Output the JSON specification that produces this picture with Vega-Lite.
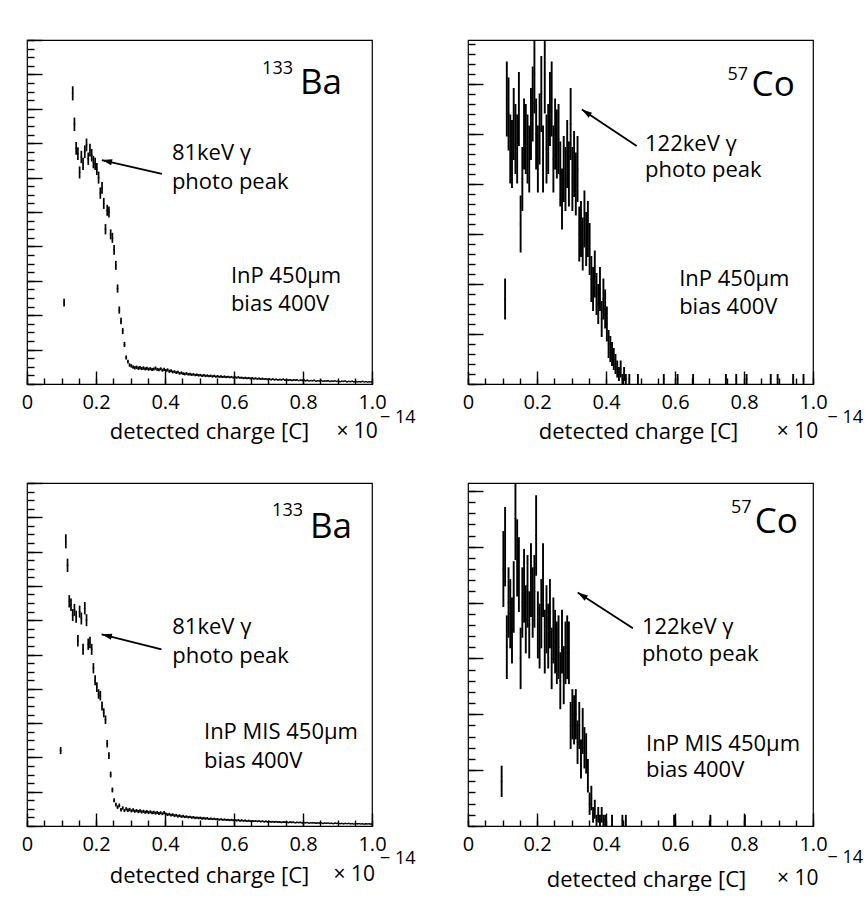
{
"$schema":"https://vega.github.io/schema/vega-lite/v6.json",
"background":"white",
"padding":{"left":20,"top":38,"right":0,"bottom":0},
"bounds":"flush",
"columns":2,
"spacing":{"row":99,"column":96},
"config":{"font":"Open Sans","view":{"stroke":"black","strokeWidth":1.2},
"axis":{"domain":false,"grid":false,"tickColor":"black","tickWidth":1.4,"tickRound":true,"labelColor":"black","labelFont":"Open Sans","labelFontSize":20,"titleFont":"Open Sans","titleFontSize":22,"titleFontWeight":"normal","titleColor":"black","labelFlush":false,"labelOverlap":false}},
"datasets":{
"h1":[{"x":0.1075,"c":473,"e":22},{"x":0.1325,"c":1690,"e":41},{"x":0.1375,"c":1510,"e":39},{"x":0.1425,"c":1370,"e":37},{"x":0.1475,"c":1340,"e":37},{"x":0.1525,"c":1230,"e":35},{"x":0.1575,"c":1320,"e":36},{"x":0.1625,"c":1280,"e":36},{"x":0.1675,"c":1350,"e":37},{"x":0.1725,"c":1390,"e":37},{"x":0.1775,"c":1310,"e":36},{"x":0.1825,"c":1360,"e":37},{"x":0.1875,"c":1330,"e":36},{"x":0.1925,"c":1290,"e":36},{"x":0.1975,"c":1280,"e":36},{"x":0.2025,"c":1250,"e":35},{"x":0.2075,"c":1200,"e":35},{"x":0.2125,"c":1110,"e":33},{"x":0.2175,"c":1140,"e":34},{"x":0.2225,"c":1050,"e":32},{"x":0.2275,"c":900,"e":30},{"x":0.2325,"c":1010,"e":32},{"x":0.2375,"c":1000,"e":32},{"x":0.2425,"c":870,"e":29},{"x":0.2475,"c":850,"e":29},{"x":0.2525,"c":780,"e":28},{"x":0.2575,"c":690,"e":26},{"x":0.2625,"c":555,"e":24},{"x":0.2675,"c":430,"e":21},{"x":0.2725,"c":366,"e":19},{"x":0.2775,"c":308,"e":18},{"x":0.2825,"c":230,"e":15},{"x":0.2875,"c":154,"e":12},{"x":0.2925,"c":130,"e":11},{"x":0.2975,"c":110,"e":10},
{"x":0.3025,"c":105,"e":10},{"x":0.3075,"c":98,"e":10},{"x":0.3125,"c":94,"e":10},{"x":0.3175,"c":97,"e":10},{"x":0.3225,"c":92,"e":10},{"x":0.3275,"c":95,"e":10},{"x":0.3325,"c":90,"e":9},{"x":0.3375,"c":93,"e":10},{"x":0.3425,"c":88,"e":9},{"x":0.3475,"c":91,"e":10},{"x":0.3525,"c":86,"e":9},{"x":0.3575,"c":89,"e":9},{"x":0.3625,"c":84,"e":9},{"x":0.3675,"c":87,"e":9},{"x":0.3725,"c":92,"e":10},{"x":0.3775,"c":85,"e":9},{"x":0.3825,"c":83,"e":9},{"x":0.3875,"c":88,"e":9},{"x":0.3925,"c":80,"e":9},{"x":0.3975,"c":85,"e":9},{"x":0.4025,"c":78,"e":9},{"x":0.4075,"c":82,"e":9},{"x":0.4125,"c":74,"e":9},{"x":0.4175,"c":77,"e":9},{"x":0.4225,"c":70,"e":8},{"x":0.4275,"c":72,"e":8},{"x":0.4325,"c":66,"e":8},{"x":0.4375,"c":69,"e":8},{"x":0.4425,"c":62,"e":8},{"x":0.4475,"c":65,"e":8},{"x":0.4525,"c":60,"e":8},{"x":0.4575,"c":58,"e":8},{"x":0.4625,"c":61,"e":8},{"x":0.4675,"c":56,"e":7},{"x":0.4725,"c":58,"e":8},{"x":0.4775,"c":54,"e":7},{"x":0.4825,"c":56,"e":7},{"x":0.4875,"c":52,"e":7},{"x":0.4925,"c":54,"e":7},{"x":0.4975,"c":50,"e":7},{"x":0.5025,"c":52,"e":7},{"x":0.5075,"c":48,"e":7},{"x":0.5125,"c":51,"e":7},{"x":0.5175,"c":47,"e":7},{"x":0.5225,"c":49,"e":7},{"x":0.5275,"c":46,"e":7},{"x":0.5325,"c":48,"e":7},{"x":0.5375,"c":44,"e":7},{"x":0.5425,"c":47,"e":7},{"x":0.5475,"c":43,"e":7},{"x":0.5525,"c":45,"e":7},{"x":0.5575,"c":42,"e":6},{"x":0.5625,"c":44,"e":7},{"x":0.5675,"c":41,"e":6},{"x":0.5725,"c":43,"e":7},{"x":0.5775,"c":40,"e":6},{"x":0.5825,"c":42,"e":6},{"x":0.5875,"c":39,"e":6},{"x":0.5925,"c":41,"e":6},{"x":0.5975,"c":38,"e":6},{"x":0.6025,"c":40,"e":6},{"x":0.6075,"c":37,"e":6},{"x":0.6125,"c":39,"e":6},{"x":0.6175,"c":36,"e":6},{"x":0.6225,"c":37,"e":6},{"x":0.6275,"c":34,"e":6},{"x":0.6325,"c":36,"e":6},{"x":0.6375,"c":33,"e":6},{"x":0.6425,"c":35,"e":6},{"x":0.6475,"c":32,"e":6},{"x":0.6525,"c":34,"e":6},{"x":0.6575,"c":31,"e":6},{"x":0.6625,"c":33,"e":6},{"x":0.6675,"c":30,"e":5},{"x":0.6725,"c":32,"e":6},{"x":0.6775,"c":29,"e":5},{"x":0.6825,"c":31,"e":6},{"x":0.6875,"c":28,"e":5},{"x":0.6925,"c":30,"e":5},{"x":0.6975,"c":27,"e":5},{"x":0.7025,"c":29,"e":5},{"x":0.7075,"c":26,"e":5},{"x":0.7125,"c":28,"e":5},{"x":0.7175,"c":25,"e":5},{"x":0.7225,"c":27,"e":5},{"x":0.7275,"c":24,"e":5},{"x":0.7325,"c":26,"e":5},{"x":0.7375,"c":25,"e":5},{"x":0.7425,"c":27,"e":5},{"x":0.7475,"c":23,"e":5},{"x":0.7525,"c":25,"e":5},{"x":0.7575,"c":22,"e":5},{"x":0.7625,"c":24,"e":5},{"x":0.7675,"c":21,"e":5},{"x":0.7725,"c":23,"e":5},{"x":0.7775,"c":22,"e":5},{"x":0.7825,"c":24,"e":5},{"x":0.7875,"c":20,"e":4},{"x":0.7925,"c":22,"e":5},{"x":0.7975,"c":21,"e":5},{"x":0.8025,"c":23,"e":5},{"x":0.8075,"c":19,"e":4},{"x":0.8125,"c":21,"e":5},{"x":0.8175,"c":18,"e":4},{"x":0.8225,"c":20,"e":4},{"x":0.8275,"c":19,"e":4},{"x":0.8325,"c":21,"e":5},{"x":0.8375,"c":17,"e":4},{"x":0.8425,"c":19,"e":4},{"x":0.8475,"c":18,"e":4},{"x":0.8525,"c":20,"e":4},{"x":0.8575,"c":16,"e":4},{"x":0.8625,"c":18,"e":4},{"x":0.8675,"c":17,"e":4},{"x":0.8725,"c":19,"e":4},{"x":0.8775,"c":15,"e":4},{"x":0.8825,"c":17,"e":4},{"x":0.8875,"c":16,"e":4},{"x":0.8925,"c":18,"e":4},{"x":0.8975,"c":15,"e":4},{"x":0.9025,"c":17,"e":4},{"x":0.9075,"c":14,"e":4},{"x":0.9125,"c":16,"e":4},{"x":0.9175,"c":15,"e":4},{"x":0.9225,"c":17,"e":4},{"x":0.9275,"c":13,"e":4},{"x":0.9325,"c":15,"e":4},{"x":0.9375,"c":14,"e":4},{"x":0.9425,"c":16,"e":4},{"x":0.9475,"c":13,"e":4},{"x":0.9525,"c":15,"e":4},{"x":0.9575,"c":12,"e":3},{"x":0.9625,"c":14,"e":4},{"x":0.9675,"c":13,"e":4},{"x":0.9725,"c":15,"e":4},{"x":0.9775,"c":12,"e":3},{"x":0.9825,"c":14,"e":4},{"x":0.9875,"c":11,"e":3},{"x":0.9925,"c":13,"e":4},{"x":0.9975,"c":12,"e":3}],
"h2":[{"x":0.1075,"c":17,"e":4.1},{"x":0.1125,"c":57,"e":7.5},{"x":0.1175,"c":54,"e":7.3},{"x":0.1225,"c":47,"e":6.9},{"x":0.1275,"c":46,"e":6.8},{"x":0.1325,"c":52,"e":7.2},{"x":0.1375,"c":49,"e":7},{"x":0.1425,"c":47,"e":6.9},{"x":0.1475,"c":55,"e":7.4},{"x":0.1525,"c":32,"e":5.7},{"x":0.1575,"c":41,"e":6.4},{"x":0.1625,"c":50,"e":7.1},{"x":0.1675,"c":49,"e":7},{"x":0.1725,"c":47,"e":6.9},{"x":0.1775,"c":45,"e":6.7},{"x":0.1825,"c":52,"e":7.2},{"x":0.1875,"c":56,"e":7.5},{"x":0.1925,"c":62,"e":7.9},{"x":0.1975,"c":50,"e":7.1},{"x":0.2025,"c":45,"e":6.7},{"x":0.2075,"c":51,"e":7.1},{"x":0.2125,"c":58,"e":7.6},{"x":0.2175,"c":45,"e":6.7},{"x":0.2225,"c":62,"e":7.9},{"x":0.2275,"c":47,"e":6.9},{"x":0.2325,"c":49,"e":7},{"x":0.2375,"c":55,"e":7.4},{"x":0.2425,"c":57,"e":7.5},{"x":0.2475,"c":45,"e":6.7},{"x":0.2525,"c":50,"e":7.1},{"x":0.2575,"c":48,"e":6.9},{"x":0.2625,"c":49,"e":7},{"x":0.2675,"c":42,"e":6.5},{"x":0.2725,"c":37,"e":6.1},{"x":0.2775,"c":43,"e":6.6},{"x":0.2825,"c":41,"e":6.4},{"x":0.2875,"c":46,"e":6.8},{"x":0.2925,"c":42,"e":6.5},{"x":0.2975,"c":52,"e":7.2},{"x":0.3025,"c":41,"e":6.4},{"x":0.3075,"c":44,"e":6.6},{"x":0.3125,"c":40,"e":6.3},{"x":0.3175,"c":43,"e":6.6},{"x":0.3225,"c":30,"e":5.5},{"x":0.3275,"c":31,"e":5.6},{"x":0.3325,"c":28,"e":5.3},{"x":0.3375,"c":33,"e":5.7},{"x":0.3425,"c":29,"e":5.4},{"x":0.3475,"c":31,"e":5.6},{"x":0.3525,"c":27,"e":5.2},{"x":0.3575,"c":21,"e":4.6},{"x":0.3625,"c":19,"e":4.4},{"x":0.3675,"c":22,"e":4.7},{"x":0.3725,"c":18,"e":4.2},{"x":0.3775,"c":16,"e":4},{"x":0.3825,"c":19,"e":4.4},{"x":0.3875,"c":13,"e":3.6},{"x":0.3925,"c":17,"e":4.1},{"x":0.3975,"c":15,"e":3.9},{"x":0.4025,"c":12,"e":3.5},{"x":0.4075,"c":8,"e":2.8},{"x":0.4125,"c":7,"e":2.6},{"x":0.4175,"c":6,"e":2.4},{"x":0.4225,"c":5,"e":2.2},{"x":0.4275,"c":4,"e":2},{"x":0.4325,"c":3,"e":1.7},{"x":0.4375,"c":2,"e":1.4},{"x":0.4425,"c":3,"e":1.7},{"x":0.4475,"c":1,"e":1},{"x":0.4525,"c":2,"e":1.4},{"x":0.4575,"c":1,"e":1},{"x":0.4675,"c":1,"e":1},{"x":0.4925,"c":1,"e":1},{"x":0.5675,"c":1,"e":1},{"x":0.6075,"c":1,"e":1},{"x":0.6525,"c":1,"e":1},{"x":0.7475,"c":1,"e":1},{"x":0.7775,"c":1,"e":1},{"x":0.8075,"c":1,"e":1},{"x":0.8775,"c":1,"e":1},{"x":0.8975,"c":1,"e":1},{"x":0.9425,"c":1,"e":1},{"x":0.9725,"c":1,"e":1}],
"h3":[{"x":0.0975,"c":440,"e":21},{"x":0.1125,"c":1660,"e":41},{"x":0.1175,"c":1520,"e":39},{"x":0.1225,"c":1310,"e":36},{"x":0.1275,"c":1290,"e":36},{"x":0.1325,"c":1230,"e":35},{"x":0.1375,"c":1260,"e":35},{"x":0.1425,"c":1220,"e":35},{"x":0.1475,"c":1080,"e":33},{"x":0.1525,"c":1250,"e":35},{"x":0.1575,"c":1210,"e":35},{"x":0.1625,"c":1030,"e":32},{"x":0.1675,"c":1270,"e":36},{"x":0.1725,"c":1200,"e":35},{"x":0.1775,"c":1060,"e":33},{"x":0.1825,"c":1070,"e":33},{"x":0.1875,"c":1030,"e":32},{"x":0.1925,"c":920,"e":30},{"x":0.1975,"c":850,"e":29},{"x":0.2025,"c":810,"e":28},{"x":0.2075,"c":770,"e":28},{"x":0.2125,"c":760,"e":28},{"x":0.2175,"c":700,"e":26},{"x":0.2225,"c":660,"e":26},{"x":0.2275,"c":620,"e":25},{"x":0.2325,"c":480,"e":22},{"x":0.2375,"c":410,"e":20},{"x":0.2425,"c":300,"e":17},{"x":0.2475,"c":210,"e":14},{"x":0.2525,"c":150,"e":12},{"x":0.2575,"c":125,"e":11},{"x":0.2625,"c":110,"e":10},{"x":0.2675,"c":120,"e":11},{"x":0.2725,"c":95,"e":10},{"x":0.2775,"c":105,"e":10},{"x":0.2825,"c":90,"e":9},{"x":0.2875,"c":100,"e":10},{"x":0.2925,"c":92,"e":10},
{"x":0.2975,"c":96,"e":10},{"x":0.3025,"c":88,"e":9},{"x":0.3075,"c":93,"e":10},{"x":0.3125,"c":86,"e":9},{"x":0.3175,"c":90,"e":9},{"x":0.3225,"c":84,"e":9},{"x":0.3275,"c":88,"e":9},{"x":0.3325,"c":82,"e":9},{"x":0.3375,"c":86,"e":9},{"x":0.3425,"c":80,"e":9},{"x":0.3475,"c":84,"e":9},{"x":0.3525,"c":78,"e":9},{"x":0.3575,"c":83,"e":9},{"x":0.3625,"c":77,"e":9},{"x":0.3675,"c":80,"e":9},{"x":0.3725,"c":75,"e":9},{"x":0.3775,"c":79,"e":9},{"x":0.3825,"c":73,"e":9},{"x":0.3875,"c":77,"e":9},{"x":0.3925,"c":71,"e":8},{"x":0.3975,"c":78,"e":9},{"x":0.4025,"c":70,"e":8},{"x":0.4075,"c":66,"e":8},{"x":0.4125,"c":69,"e":8},{"x":0.4175,"c":63,"e":8},{"x":0.4225,"c":66,"e":8},{"x":0.4275,"c":60,"e":8},{"x":0.4325,"c":63,"e":8},{"x":0.4375,"c":58,"e":8},{"x":0.4425,"c":60,"e":8},{"x":0.4475,"c":55,"e":7},{"x":0.4525,"c":57,"e":8},{"x":0.4575,"c":53,"e":7},{"x":0.4625,"c":55,"e":7},{"x":0.4675,"c":51,"e":7},{"x":0.4725,"c":53,"e":7},{"x":0.4775,"c":49,"e":7},{"x":0.4825,"c":51,"e":7},{"x":0.4875,"c":47,"e":7},{"x":0.4925,"c":49,"e":7},{"x":0.4975,"c":46,"e":7},{"x":0.5025,"c":48,"e":7},{"x":0.5075,"c":44,"e":7},{"x":0.5125,"c":46,"e":7},{"x":0.5175,"c":43,"e":7},{"x":0.5225,"c":45,"e":7},{"x":0.5275,"c":41,"e":6},{"x":0.5325,"c":43,"e":7},{"x":0.5375,"c":40,"e":6},{"x":0.5425,"c":42,"e":6},{"x":0.5475,"c":39,"e":6},{"x":0.5525,"c":40,"e":6},{"x":0.5575,"c":37,"e":6},{"x":0.5625,"c":39,"e":6},{"x":0.5675,"c":36,"e":6},{"x":0.5725,"c":38,"e":6},{"x":0.5775,"c":35,"e":6},{"x":0.5825,"c":37,"e":6},{"x":0.5875,"c":34,"e":6},{"x":0.5925,"c":36,"e":6},{"x":0.5975,"c":33,"e":6},{"x":0.6025,"c":35,"e":6},{"x":0.6075,"c":32,"e":6},{"x":0.6125,"c":34,"e":6},{"x":0.6175,"c":31,"e":6},{"x":0.6225,"c":33,"e":6},{"x":0.6275,"c":30,"e":5},{"x":0.6325,"c":32,"e":6},{"x":0.6375,"c":29,"e":5},{"x":0.6425,"c":31,"e":6},{"x":0.6475,"c":28,"e":5},{"x":0.6525,"c":30,"e":5},{"x":0.6575,"c":28,"e":5},{"x":0.6625,"c":29,"e":5},{"x":0.6675,"c":27,"e":5},{"x":0.6725,"c":28,"e":5},{"x":0.6775,"c":26,"e":5},{"x":0.6825,"c":28,"e":5},{"x":0.6875,"c":25,"e":5},{"x":0.6925,"c":27,"e":5},{"x":0.6975,"c":24,"e":5},{"x":0.7025,"c":26,"e":5},{"x":0.7075,"c":24,"e":5},{"x":0.7125,"c":25,"e":5},{"x":0.7175,"c":23,"e":5},{"x":0.7225,"c":25,"e":5},{"x":0.7275,"c":22,"e":5},{"x":0.7325,"c":24,"e":5},{"x":0.7375,"c":21,"e":5},{"x":0.7425,"c":23,"e":5},{"x":0.7475,"c":22,"e":5},{"x":0.7525,"c":23,"e":5},{"x":0.7575,"c":20,"e":4},{"x":0.7625,"c":22,"e":5},{"x":0.7675,"c":21,"e":5},{"x":0.7725,"c":22,"e":5},{"x":0.7775,"c":19,"e":4},{"x":0.7825,"c":21,"e":5},{"x":0.7875,"c":20,"e":4},{"x":0.7925,"c":21,"e":5},{"x":0.7975,"c":18,"e":4},{"x":0.8025,"c":20,"e":4},{"x":0.8075,"c":19,"e":4},{"x":0.8125,"c":20,"e":4},{"x":0.8175,"c":17,"e":4},{"x":0.8225,"c":19,"e":4},{"x":0.8275,"c":18,"e":4},{"x":0.8325,"c":19,"e":4},{"x":0.8375,"c":16,"e":4},{"x":0.8425,"c":18,"e":4},{"x":0.8475,"c":17,"e":4},{"x":0.8525,"c":18,"e":4},{"x":0.8575,"c":15,"e":4},{"x":0.8625,"c":17,"e":4},{"x":0.8675,"c":16,"e":4},{"x":0.8725,"c":17,"e":4},{"x":0.8775,"c":15,"e":4},{"x":0.8825,"c":16,"e":4},{"x":0.8875,"c":14,"e":4},{"x":0.8925,"c":16,"e":4},{"x":0.8975,"c":15,"e":4},{"x":0.9025,"c":16,"e":4},{"x":0.9075,"c":14,"e":4},{"x":0.9125,"c":15,"e":4},{"x":0.9175,"c":13,"e":4},{"x":0.9225,"c":15,"e":4},{"x":0.9275,"c":14,"e":4},{"x":0.9325,"c":15,"e":4},{"x":0.9375,"c":13,"e":4},{"x":0.9425,"c":14,"e":4},{"x":0.9475,"c":12,"e":3},{"x":0.9525,"c":14,"e":4},{"x":0.9575,"c":13,"e":4},{"x":0.9625,"c":14,"e":4},{"x":0.9675,"c":12,"e":3},{"x":0.9725,"c":13,"e":4},{"x":0.9775,"c":11,"e":3},{"x":0.9825,"c":13,"e":4},{"x":0.9875,"c":12,"e":3},{"x":0.9925,"c":13,"e":4},{"x":0.9975,"c":11,"e":3}],
"h4":[{"x":0.0975,"c":8,"e":2.8},{"x":0.1025,"c":46,"e":6.8},{"x":0.1075,"c":50,"e":7.1},{"x":0.1125,"c":32,"e":5.7},{"x":0.1175,"c":40,"e":6.3},{"x":0.1225,"c":38,"e":6.2},{"x":0.1275,"c":35,"e":5.9},{"x":0.1325,"c":41,"e":6.4},{"x":0.1375,"c":55,"e":7.4},{"x":0.1425,"c":48,"e":6.9},{"x":0.1475,"c":45,"e":6.7},{"x":0.1525,"c":30,"e":5.5},{"x":0.1575,"c":40,"e":6.3},{"x":0.1625,"c":43,"e":6.6},{"x":0.1675,"c":37,"e":6.1},{"x":0.1725,"c":42,"e":6.5},{"x":0.1775,"c":36,"e":6},{"x":0.1825,"c":44,"e":6.6},{"x":0.1875,"c":40,"e":6.3},{"x":0.1925,"c":42,"e":6.5},{"x":0.1975,"c":52,"e":7.2},{"x":0.2025,"c":36,"e":6},{"x":0.2075,"c":34,"e":5.8},{"x":0.2125,"c":38,"e":6.2},{"x":0.2175,"c":44,"e":6.6},{"x":0.2225,"c":33,"e":5.7},{"x":0.2275,"c":37,"e":6.1},{"x":0.2325,"c":34,"e":5.8},{"x":0.2375,"c":38,"e":6.2},{"x":0.2425,"c":30,"e":5.5},{"x":0.2475,"c":35,"e":5.9},{"x":0.2525,"c":33,"e":5.7},{"x":0.2575,"c":31,"e":5.6},{"x":0.2625,"c":32,"e":5.7},{"x":0.2675,"c":26,"e":5.1},{"x":0.2725,"c":33,"e":5.7},{"x":0.2775,"c":27,"e":5.2},{"x":0.2825,"c":31,"e":5.6},{"x":0.2875,"c":32,"e":5.7},{"x":0.2925,"c":31,"e":5.6},{"x":0.2975,"c":18,"e":4.2},{"x":0.3025,"c":20,"e":4.5},{"x":0.3075,"c":19,"e":4.4},{"x":0.3125,"c":20,"e":4.5},{"x":0.3175,"c":15,"e":3.9},{"x":0.3225,"c":18,"e":4.2},{"x":0.3275,"c":12,"e":3.5},{"x":0.3325,"c":17,"e":4.1},{"x":0.3375,"c":14,"e":3.7},{"x":0.3425,"c":13,"e":3.6},{"x":0.3475,"c":9,"e":3},{"x":0.3525,"c":4,"e":2},{"x":0.3575,"c":5,"e":2.2},{"x":0.3625,"c":2,"e":1.4},{"x":0.3675,"c":3,"e":1.7},{"x":0.3725,"c":1,"e":1},{"x":0.3775,"c":2,"e":1.4},{"x":0.3825,"c":1,"e":1},{"x":0.3875,"c":2,"e":1.4},{"x":0.3925,"c":1,"e":1},{"x":0.3975,"c":1,"e":1},{"x":0.4175,"c":1,"e":1},{"x":0.4475,"c":1,"e":1},{"x":0.4575,"c":1,"e":1},{"x":0.5975,"c":1,"e":1},{"x":0.7025,"c":1,"e":1},{"x":0.8025,"c":1,"e":1}],
"t1":[{"x":0.791,"y":1684,"t":"Ba","k":"el"},{"x":0.771,"y":1804,"t":"133","k":"iso"},{"x":0.42,"y":1302,"t":"81keV γ","k":"note"},{"x":0.42,"y":1134,"t":"photo peak","k":"note"},{"x":0.591,"y":589,"t":"InP 450μm","k":"note"},{"x":0.591,"y":424,"t":"bias 400V","k":"note"},{"x":1.017,"y":-312,"t":"× 10","k":"mul"},{"x":1.023,"y":-225,"t":"− 14","k":"exp"}],
"t2":[{"x":0.822,"y":57.6,"t":"Co","k":"el"},{"x":0.812,"y":60.9,"t":"57","k":"iso"},{"x":0.513,"y":46.6,"t":"122keV γ","k":"note"},{"x":0.513,"y":41.5,"t":"photo peak","k":"note"},{"x":0.612,"y":19.6,"t":"InP 450μm","k":"note"},{"x":0.612,"y":14.1,"t":"bias 400V","k":"note"},{"x":1.015,"y":-10.7,"t":"× 10","k":"mul"},{"x":1.042,"y":-7.7,"t":"− 14","k":"exp"}],
"t3":[{"x":0.82,"y":1681,"t":"Ba","k":"el"},{"x":0.8,"y":1808,"t":"133","k":"iso"},{"x":0.421,"y":1118,"t":"81keV γ","k":"note"},{"x":0.421,"y":952,"t":"photo peak","k":"note"},{"x":0.513,"y":506,"t":"InP MIS 450μm","k":"note"},{"x":0.513,"y":340,"t":"bias 400V","k":"note"},{"x":1.009,"y":-321,"t":"× 10","k":"mul"},{"x":1.023,"y":-222,"t":"− 14","k":"exp"}],
"t4":[{"x":0.831,"y":52.5,"t":"Co","k":"el"},{"x":0.822,"y":56,"t":"57","k":"iso"},{"x":0.504,"y":34.3,"t":"122keV γ","k":"note"},{"x":0.504,"y":29.6,"t":"photo peak","k":"note"},{"x":0.516,"y":13.5,"t":"InP MIS 450μm","k":"note"},{"x":0.516,"y":8.75,"t":"bias 400V","k":"note"},{"x":1.016,"y":-10.5,"t":"× 10","k":"mul"},{"x":1.042,"y":-6.7,"t":"− 14","k":"exp"}],
"a1":[{"x":0.391,"y":1221,"x2":0.217,"y2":1302}],
"a2":[{"x":0.489,"y":47.6,"x2":0.33,"y2":54.9}],
"a3":[{"x":0.39,"y":1030,"x2":0.2165,"y2":1118}],
"a4":[{"x":0.478,"y":35.4,"x2":0.318,"y2":41.8}]
},
"concat":[
{"width":345,"height":344,"resolve":{"axis":{"x":"independent","y":"independent"}},"layer":[
{"data":{"name":"h1"},"mark":{"type":"errorbar","color":"black","thickness":1.7,"clip":true},"encoding":{
"x":{"field":"x","type":"quantitative","title":"detected charge [C]","scale":{"domain":[0,1],"nice":false},"axis":{"orient":"bottom","values":[0,0.2,0.4,0.6,0.8,1],"tickSize":-13,"labelExpr":"datum.value<0.001 ? '0' : format(datum.value,'.1f')","labelBaseline":"alphabetic","labelPadding":37,"titleX":182,"titleY":54,"titleBaseline":"alphabetic","titleAlign":"center","titleAnchor":null}},
"y":{"field":"c","type":"quantitative","title":null,"scale":{"domain":[0,2000],"nice":false},"axis":{"orient":"left","values":[0,200,400,600,800,1000,1200,1400,1600,1800,2000],"labels":false,"tickSize":-15}},
"yError":{"field":"e"}}},
{"data":{"name":"h1"},"mark":{"type":"tick","orient":"horizontal","size":1.8,"thickness":1.3,"color":"black","clip":true},"encoding":{"x":{"field":"x","type":"quantitative","axis":{"orient":"bottom","values":[0,0.05,0.1,0.15,0.2,0.25,0.3,0.35,0.4,0.45,0.5,0.55,0.6,0.65,0.7,0.75,0.8,0.85,0.9,0.95,1],"tickSize":-6,"labels":false,"title":null}},"y":{"field":"c","type":"quantitative","axis":{"orient":"left","values":[0,50,100,150,200,250,300,350,400,450,500,550,600,650,700,750,800,850,900,950,1000,1050,1100,1150,1200,1250,1300,1350,1400,1450,1500,1550,1600,1650,1700,1750,1800,1850,1900,1950,2000],"tickSize":-7,"labels":false,"title":null}}}},
{"data":{"name":"a1"},"mark":{"type":"rule","strokeWidth":1.8,"color":"black"},"encoding":{"x":{"field":"x","type":"quantitative","axis":null},"y":{"field":"y","type":"quantitative","axis":null},"x2":{"field":"x2"},"y2":{"field":"y2"}}},
{"data":{"name":"a1"},"mark":{"type":"point","shape":"M0,0L-0.3,1L0.3,1Z","filled":true,"size":420,"angle":283,"color":"black","opacity":1},"encoding":{"x":{"field":"x2","type":"quantitative","axis":null},"y":{"field":"y2","type":"quantitative","axis":null}}},
{"data":{"name":"t1"},"transform":[{"filter":"datum.k=='el'||datum.k=='note'||datum.k=='exp'"}],"mark":{"type":"text","align":"left","baseline":"alphabetic","color":"black","font":"Open Sans"},"encoding":{"x":{"field":"x","type":"quantitative","axis":null},"y":{"field":"y","type":"quantitative","axis":null},"text":{"field":"t"},"size":{"field":"k","type":"nominal","legend":null,"scale":{"type":"ordinal","domain":["el","iso","note","mul","exp"],"range":[35,18,22,21,18]}}}},
{"data":{"name":"t1"},"transform":[{"filter":"datum.k=='iso'||datum.k=='mul'"}],"mark":{"type":"text","align":"right","baseline":"alphabetic","color":"black","font":"Open Sans"},"encoding":{"x":{"field":"x","type":"quantitative","axis":null},"y":{"field":"y","type":"quantitative","axis":null},"text":{"field":"t"},"size":{"field":"k","type":"nominal","legend":null,"scale":{"type":"ordinal","domain":["el","iso","note","mul","exp"],"range":[35,18,22,21,18]}}}}
]},
{"width":345,"height":344,"resolve":{"axis":{"x":"independent","y":"independent"}},"layer":[
{"data":{"name":"h2"},"mark":{"type":"errorbar","color":"black","thickness":1.9,"clip":true},"encoding":{
"x":{"field":"x","type":"quantitative","title":"detected charge [C]","scale":{"domain":[0,1],"nice":false},"axis":{"orient":"bottom","values":[0,0.2,0.4,0.6,0.8,1],"tickSize":-13,"labelExpr":"datum.value<0.001 ? '0' : format(datum.value,'.1f')","labelBaseline":"alphabetic","labelPadding":37,"titleX":170,"titleY":54,"titleBaseline":"alphabetic","titleAlign":"center","titleAnchor":null}},
"y":{"field":"c","type":"quantitative","title":null,"scale":{"domain":[0,68.8],"nice":false},"axis":{"orient":"left","values":[0,10,20,30,40,50,60],"labels":false,"tickSize":-15}},
"yError":{"field":"e"}}},
{"data":{"name":"h2"},"mark":{"type":"tick","orient":"horizontal","size":1.8,"thickness":1.3,"color":"black","clip":true},"encoding":{"x":{"field":"x","type":"quantitative","axis":{"orient":"bottom","values":[0,0.05,0.1,0.15,0.2,0.25,0.3,0.35,0.4,0.45,0.5,0.55,0.6,0.65,0.7,0.75,0.8,0.85,0.9,0.95,1],"tickSize":-6,"labels":false,"title":null}},"y":{"field":"c","type":"quantitative","axis":{"orient":"left","values":[0,2,4,6,8,10,12,14,16,18,20,22,24,26,28,30,32,34,36,38,40,42,44,46,48,50,52,54,56,58,60,62,64,66,68],"tickSize":-7,"labels":false,"title":null}}}},
{"data":{"name":"a2"},"mark":{"type":"rule","strokeWidth":1.8,"color":"black"},"encoding":{"x":{"field":"x","type":"quantitative","axis":null},"y":{"field":"y","type":"quantitative","axis":null},"x2":{"field":"x2"},"y2":{"field":"y2"}}},
{"data":{"name":"a2"},"mark":{"type":"point","shape":"M0,0L-0.3,1L0.3,1Z","filled":true,"size":420,"angle":304,"color":"black","opacity":1},"encoding":{"x":{"field":"x2","type":"quantitative","axis":null},"y":{"field":"y2","type":"quantitative","axis":null}}},
{"data":{"name":"t2"},"transform":[{"filter":"datum.k=='el'||datum.k=='note'||datum.k=='exp'"}],"mark":{"type":"text","align":"left","baseline":"alphabetic","color":"black","font":"Open Sans"},"encoding":{"x":{"field":"x","type":"quantitative","axis":null},"y":{"field":"y","type":"quantitative","axis":null},"text":{"field":"t"},"size":{"field":"k","type":"nominal","legend":null,"scale":{"type":"ordinal","domain":["el","iso","note","mul","exp"],"range":[35,18,22,21,18]}}}},
{"data":{"name":"t2"},"transform":[{"filter":"datum.k=='iso'||datum.k=='mul'"}],"mark":{"type":"text","align":"right","baseline":"alphabetic","color":"black","font":"Open Sans"},"encoding":{"x":{"field":"x","type":"quantitative","axis":null},"y":{"field":"y","type":"quantitative","axis":null},"text":{"field":"t"},"size":{"field":"k","type":"nominal","legend":null,"scale":{"type":"ordinal","domain":["el","iso","note","mul","exp"],"range":[35,18,22,21,18]}}}}
]},
{"width":345,"height":343,"resolve":{"axis":{"x":"independent","y":"independent"}},"layer":[
{"data":{"name":"h3"},"mark":{"type":"errorbar","color":"black","thickness":1.7,"clip":true},"encoding":{
"x":{"field":"x","type":"quantitative","title":"detected charge [C]","scale":{"domain":[0,1],"nice":false},"axis":{"orient":"bottom","values":[0,0.2,0.4,0.6,0.8,1],"tickSize":-13,"labelExpr":"datum.value<0.001 ? '0' : format(datum.value,'.1f')","labelBaseline":"alphabetic","labelPadding":37,"titleX":182,"titleY":56,"titleBaseline":"alphabetic","titleAlign":"center","titleAnchor":null}},
"y":{"field":"c","type":"quantitative","title":null,"scale":{"domain":[0,2000],"nice":false},"axis":{"orient":"left","values":[0,200,400,600,800,1000,1200,1400,1600,1800,2000],"labels":false,"tickSize":-15}},
"yError":{"field":"e"}}},
{"data":{"name":"h3"},"mark":{"type":"tick","orient":"horizontal","size":1.8,"thickness":1.3,"color":"black","clip":true},"encoding":{"x":{"field":"x","type":"quantitative","axis":{"orient":"bottom","values":[0,0.05,0.1,0.15,0.2,0.25,0.3,0.35,0.4,0.45,0.5,0.55,0.6,0.65,0.7,0.75,0.8,0.85,0.9,0.95,1],"tickSize":-6,"labels":false,"title":null}},"y":{"field":"c","type":"quantitative","axis":{"orient":"left","values":[0,50,100,150,200,250,300,350,400,450,500,550,600,650,700,750,800,850,900,950,1000,1050,1100,1150,1200,1250,1300,1350,1400,1450,1500,1550,1600,1650,1700,1750,1800,1850,1900,1950,2000],"tickSize":-7,"labels":false,"title":null}}}},
{"data":{"name":"a3"},"mark":{"type":"rule","strokeWidth":1.8,"color":"black"},"encoding":{"x":{"field":"x","type":"quantitative","axis":null},"y":{"field":"y","type":"quantitative","axis":null},"x2":{"field":"x2"},"y2":{"field":"y2"}}},
{"data":{"name":"a3"},"mark":{"type":"point","shape":"M0,0L-0.3,1L0.3,1Z","filled":true,"size":420,"angle":284,"color":"black","opacity":1},"encoding":{"x":{"field":"x2","type":"quantitative","axis":null},"y":{"field":"y2","type":"quantitative","axis":null}}},
{"data":{"name":"t3"},"transform":[{"filter":"datum.k=='el'||datum.k=='note'||datum.k=='exp'"}],"mark":{"type":"text","align":"left","baseline":"alphabetic","color":"black","font":"Open Sans"},"encoding":{"x":{"field":"x","type":"quantitative","axis":null},"y":{"field":"y","type":"quantitative","axis":null},"text":{"field":"t"},"size":{"field":"k","type":"nominal","legend":null,"scale":{"type":"ordinal","domain":["el","iso","note","mul","exp"],"range":[35,18,22,21,18]}}}},
{"data":{"name":"t3"},"transform":[{"filter":"datum.k=='iso'||datum.k=='mul'"}],"mark":{"type":"text","align":"right","baseline":"alphabetic","color":"black","font":"Open Sans"},"encoding":{"x":{"field":"x","type":"quantitative","axis":null},"y":{"field":"y","type":"quantitative","axis":null},"text":{"field":"t"},"size":{"field":"k","type":"nominal","legend":null,"scale":{"type":"ordinal","domain":["el","iso","note","mul","exp"],"range":[35,18,22,21,18]}}}}
]},
{"width":345,"height":343,"resolve":{"axis":{"x":"independent","y":"independent"}},"layer":[
{"data":{"name":"h4"},"mark":{"type":"errorbar","color":"black","thickness":1.9,"clip":true},"encoding":{
"x":{"field":"x","type":"quantitative","title":"detected charge [C]","scale":{"domain":[0,1],"nice":false},"axis":{"orient":"bottom","values":[0,0.2,0.4,0.6,0.8,1],"tickSize":-13,"labelExpr":"datum.value<0.001 ? '0' : format(datum.value,'.1f')","labelBaseline":"alphabetic","labelPadding":37,"titleX":178,"titleY":60,"titleBaseline":"alphabetic","titleAlign":"center","titleAnchor":null}},
"y":{"field":"c","type":"quantitative","title":null,"scale":{"domain":[0,61.4],"nice":false},"axis":{"orient":"left","values":[0,10,20,30,40,50,60],"labels":false,"tickSize":-15}},
"yError":{"field":"e"}}},
{"data":{"name":"h4"},"mark":{"type":"tick","orient":"horizontal","size":1.8,"thickness":1.3,"color":"black","clip":true},"encoding":{"x":{"field":"x","type":"quantitative","axis":{"orient":"bottom","values":[0,0.05,0.1,0.15,0.2,0.25,0.3,0.35,0.4,0.45,0.5,0.55,0.6,0.65,0.7,0.75,0.8,0.85,0.9,0.95,1],"tickSize":-6,"labels":false,"title":null}},"y":{"field":"c","type":"quantitative","axis":{"orient":"left","values":[0,2,4,6,8,10,12,14,16,18,20,22,24,26,28,30,32,34,36,38,40,42,44,46,48,50,52,54,56,58,60],"tickSize":-7,"labels":false,"title":null}}}},
{"data":{"name":"a4"},"mark":{"type":"rule","strokeWidth":1.8,"color":"black"},"encoding":{"x":{"field":"x","type":"quantitative","axis":null},"y":{"field":"y","type":"quantitative","axis":null},"x2":{"field":"x2"},"y2":{"field":"y2"}}},
{"data":{"name":"a4"},"mark":{"type":"point","shape":"M0,0L-0.3,1L0.3,1Z","filled":true,"size":420,"angle":303,"color":"black","opacity":1},"encoding":{"x":{"field":"x2","type":"quantitative","axis":null},"y":{"field":"y2","type":"quantitative","axis":null}}},
{"data":{"name":"t4"},"transform":[{"filter":"datum.k=='el'||datum.k=='note'||datum.k=='exp'"}],"mark":{"type":"text","align":"left","baseline":"alphabetic","color":"black","font":"Open Sans"},"encoding":{"x":{"field":"x","type":"quantitative","axis":null},"y":{"field":"y","type":"quantitative","axis":null},"text":{"field":"t"},"size":{"field":"k","type":"nominal","legend":null,"scale":{"type":"ordinal","domain":["el","iso","note","mul","exp"],"range":[35,18,22,21,18]}}}},
{"data":{"name":"t4"},"transform":[{"filter":"datum.k=='iso'||datum.k=='mul'"}],"mark":{"type":"text","align":"right","baseline":"alphabetic","color":"black","font":"Open Sans"},"encoding":{"x":{"field":"x","type":"quantitative","axis":null},"y":{"field":"y","type":"quantitative","axis":null},"text":{"field":"t"},"size":{"field":"k","type":"nominal","legend":null,"scale":{"type":"ordinal","domain":["el","iso","note","mul","exp"],"range":[35,18,22,21,18]}}}}
]}
]
}
